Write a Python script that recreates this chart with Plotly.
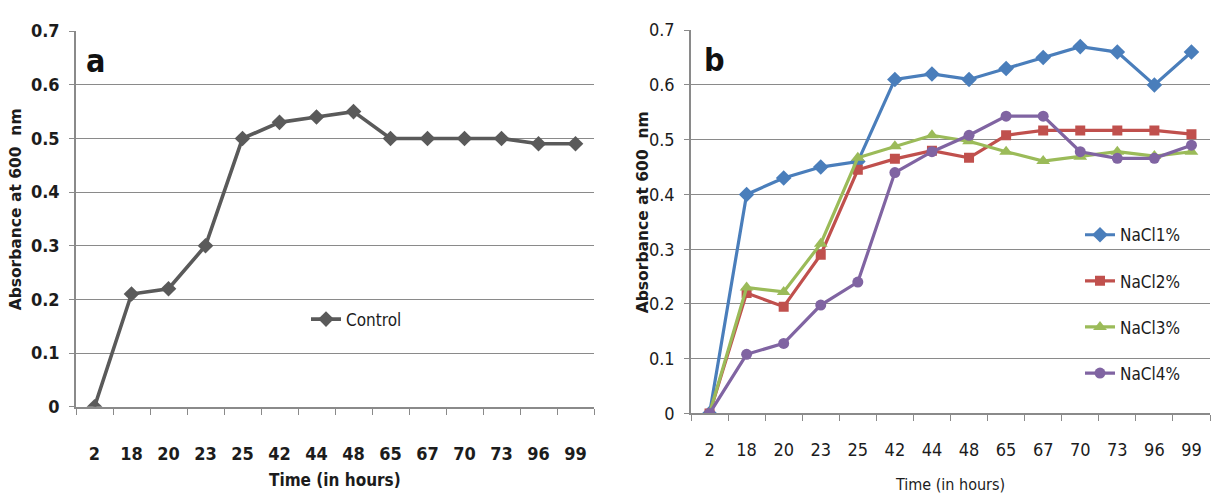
import plotly.graph_objects as go

# Sampling times (hours), shown as evenly spaced categories
hours = ["2", "18", "20", "23", "25", "42", "44", "48", "65", "67", "70", "73", "96", "99"]

# Panel a: control culture
control = [0.0, 0.21, 0.22, 0.30, 0.50, 0.53, 0.54, 0.55, 0.50, 0.50, 0.50, 0.50, 0.49, 0.49]

# Panel b: growth under different NaCl concentrations
nacl1 = [0.0, 0.40, 0.43, 0.45, 0.46, 0.61, 0.62, 0.61, 0.63, 0.65, 0.67, 0.66, 0.60, 0.66]
nacl2 = [0.0, 0.22, 0.195, 0.29, 0.445, 0.465, 0.48, 0.467, 0.508, 0.517, 0.517, 0.517, 0.517, 0.51]
nacl3 = [0.0, 0.23, 0.222, 0.31, 0.467, 0.488, 0.508, 0.497, 0.478, 0.461, 0.469, 0.478, 0.47, 0.478]
nacl4 = [0.0, 0.108, 0.128, 0.198, 0.24, 0.44, 0.478, 0.508, 0.543, 0.543, 0.478, 0.466, 0.466, 0.49]

y_ticks = [0, 0.1, 0.2, 0.3, 0.4, 0.5, 0.6, 0.7]
y_tick_text = ["0", "0.1", "0.2", "0.3", "0.4", "0.5", "0.6", "0.7"]

W, H = 1212, 503
NARROW = "DejaVu Sans Condensed, Liberation Sans Narrow, Arial Narrow, sans-serif"
WIDE = "DejaVu Sans, Verdana, sans-serif"
TXT = "#1c1c1c"
GRID = "#8a8a8a"


def px_x(p):
    return p / W


def px_y(p):
    return 1 - p / H


fig = go.Figure()

fig.add_trace(go.Scatter(
    x=hours, y=control, name="Control", mode="lines+markers",
    line=dict(color="#5a5a5a", width=3.6),
    marker=dict(symbol="diamond", size=12, color="#5a5a5a"),
    xaxis="x", yaxis="y", legend="legend",
))

series_b = [
    ("NaCl1%", nacl1, "#4a7ebb", "diamond", 12),
    ("NaCl2%", nacl2, "#c0504d", "square", 10),
    ("NaCl3%", nacl3, "#9bbb59", "triangle-up", 12),
    ("NaCl4%", nacl4, "#8064a2", "circle", 11),
]
for name, vals, col, sym, sz in series_b:
    fig.add_trace(go.Scatter(
        x=hours, y=vals, name=name, mode="lines+markers",
        line=dict(color=col, width=3.2),
        marker=dict(symbol=sym, size=sz, color=col),
        xaxis="x2", yaxis="y2", legend="legend2", legendgroup=name,
    ))


def x_axis(weight, standoff, dom):
    return dict(
        domain=dom,
        type="category", categoryorder="array", categoryarray=hours,
        range=[-0.5, len(hours) - 0.5], showgrid=False,
        showline=True, linecolor=GRID, linewidth=1.5,
        ticks="outside", tickson="boundaries", ticklen=6, tickcolor=GRID, tickwidth=1.3,
        tickfont=dict(family=NARROW, size=18, color=TXT, weight=weight),
        ticklabelstandoff=standoff,
        zeroline=False, fixedrange=True,
    )


def y_axis(weight, standoff, dom):
    return dict(
        domain=dom,
        range=[0, 0.7], tickvals=y_ticks, ticktext=y_tick_text,
        showgrid=True, gridcolor=GRID, gridwidth=1.4,
        showline=True, linecolor=GRID, linewidth=1.5,
        ticks="outside", ticklen=5, tickcolor=GRID, tickwidth=1.3,
        tickfont=dict(family=NARROW, size=18, color=TXT, weight=weight),
        ticklabelstandoff=standoff,
        zeroline=False, fixedrange=True,
    )


fig.update_layout(
    width=W, height=H,
    margin=dict(l=0, r=0, t=0, b=0),
    paper_bgcolor="white", plot_bgcolor="white",
    xaxis=dict(anchor="y", **x_axis("bold", 30, [px_x(76), px_x(594)])),
    yaxis=dict(anchor="x", **y_axis("bold", 6, [px_y(413), px_y(21)])),
    xaxis2=dict(anchor="y2", **x_axis("normal", 19, [px_x(691), px_x(1210)])),
    yaxis2=dict(anchor="x2", **y_axis("normal", 6, [px_y(420), px_y(20)])),
    legend=dict(
        x=px_x(306), y=px_y(322), xanchor="left", yanchor="middle",
        bgcolor="rgba(0,0,0,0)", font=dict(family=NARROW, size=17, color=TXT),
    ),
    legend2=dict(
        x=px_x(1080), y=px_y(306), xanchor="left", yanchor="middle",
        bgcolor="rgba(0,0,0,0)", font=dict(family=NARROW, size=17, color=TXT),
        tracegroupgap=21,
    ),
    showlegend=True,
)

annotations = [
    dict(text="a", x=px_x(84), y=px_y(52), xanchor="left", yanchor="middle",
         font=dict(family=NARROW, size=32, color="#111", weight="bold")),
    dict(text="b", x=px_x(702), y=px_y(51), xanchor="left", yanchor="middle",
         font=dict(family=NARROW, size=32, color="#111", weight="bold")),
    dict(text="Time (in hours)", x=px_x(335), y=px_y(489), xanchor="center", yanchor="middle",
         font=dict(family=NARROW, size=17, color=TXT, weight="bold")),
    dict(text="Time (in hours)", x=px_x(950), y=px_y(494), xanchor="center", yanchor="middle",
         font=dict(family=NARROW, size=16, color=TXT)),
    dict(text="Absorbance at 600  nm", x=px_x(16), y=px_y(207), textangle=-90,
         xanchor="center", yanchor="middle",
         font=dict(family=WIDE, size=15.5, color=TXT, weight="bold")),
    dict(text="Absorbance at 600  nm", x=px_x(643), y=px_y(210), textangle=-90,
         xanchor="center", yanchor="middle",
         font=dict(family=WIDE, size=15.5, color=TXT, weight="bold")),
]
for a in annotations:
    a.update(xref="paper", yref="paper", showarrow=False)
fig.update_layout(annotations=annotations)

fig.write_html("out.html")
